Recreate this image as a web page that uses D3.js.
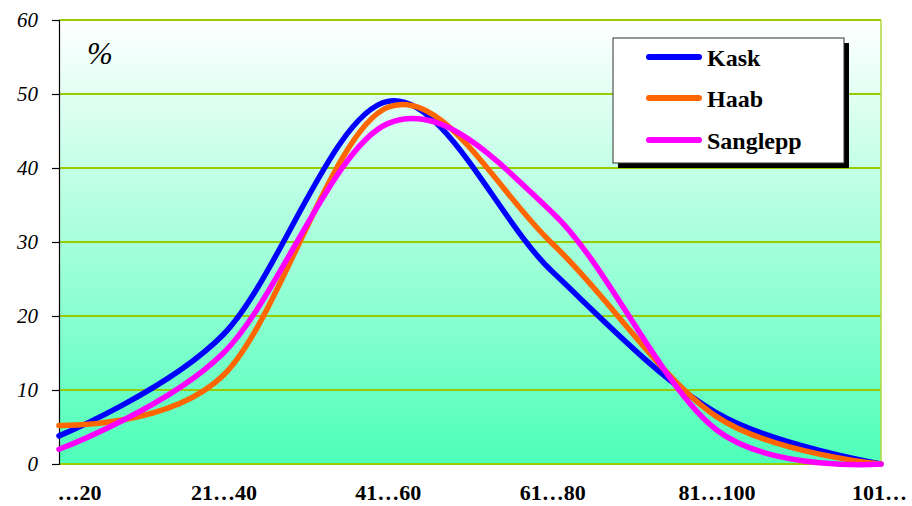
<!DOCTYPE html>
<html>
<head>
<meta charset="utf-8">
<script src="https://cdn.jsdelivr.net/npm/d3@7/dist/d3.min.js"></script>
<style>
html,body{margin:0;padding:0;background:#fff;}
svg{display:block;}
</style>
</head>
<body>
<svg id="chart" width="912" height="506"></svg>
<script>
const categories = ["…20", "21…40", "41…60", "61…80", "81…100", "101…"];
const kask = [3.8, 17.5, 49.0, 26.0, 6.9, 0];
const haab = [5.2, 12.0, 48.2, 29.8, 6.4, 0];
const sanglepp = [2.0, 15.0, 46.0, 34.0, 4.6, 0];
const seriesNames = ["Kask", "Haab", "Sanglepp"];
const seriesColors = ["#0000ff", "#ff6600", "#ff00ff"];
const yTicks = [0, 10, 20, 30, 40, 50, 60];

const series = [kask, haab, sanglepp];
const svg = d3.select("#chart");
const L = 59, R = 881, T = 20, B = 464;

const x = d3.scalePoint().domain(categories).range([L, R]);
const y = d3.scaleLinear().domain([0, 60]).range([B, T]);

const defs = svg.append("defs");
const grad = defs.append("linearGradient").attr("id", "bg").attr("x1", 0).attr("y1", 0).attr("x2", 0).attr("y2", 1);
grad.append("stop").attr("offset", "0%").attr("stop-color", "#ffffff");
grad.append("stop").attr("offset", "100%").attr("stop-color", "#4dffb8");

svg.append("rect").attr("x", L).attr("y", T).attr("width", R - L).attr("height", B - T).attr("fill", "url(#bg)");

// gridlines
svg.append("g").selectAll("line").data(yTicks).join("line")
  .attr("x1", L).attr("x2", R)
  .attr("y1", d => y(d)).attr("y2", d => y(d))
  .attr("stroke", "#99cc00").attr("stroke-width", 2);
// right border
svg.append("line").attr("x1", R).attr("x2", R).attr("y1", T).attr("y2", B)
  .attr("stroke", "#b5d93a").attr("stroke-width", 1.5);

// y axis
const yAxis = d3.axisLeft(y).tickValues(yTicks).tickSize(7).tickPadding(14).tickFormat(d3.format("d"));
const ga = svg.append("g").attr("transform", `translate(${L},0)`).call(yAxis);
ga.select(".domain").attr("stroke", "#000").attr("stroke-width", 1.2);
ga.selectAll(".tick line").attr("stroke", "#000").attr("stroke-width", 1.2);
ga.selectAll(".tick text")
  .attr("font-family", "'Liberation Serif', 'DejaVu Serif', serif")
  .attr("font-style", "italic").attr("font-size", "21px").attr("fill", "#000")
  .attr("dy", "0.3em");

// x labels
const xAxis = d3.axisBottom(x).tickSize(0).tickPadding(0);
const gx = svg.append("g").attr("transform", `translate(0,${B})`).call(xAxis);
gx.select(".domain").remove();
gx.selectAll(".tick text")
  .attr("font-family", "'Liberation Serif', 'DejaVu Serif', serif")
  .attr("font-weight", "bold").attr("font-size", "22px").attr("fill", "#000")
  .attr("y", 36).attr("dy", 0)
  .attr("text-anchor", (d, i) => i === 0 ? "start" : "middle")
  .attr("dx", (d, i) => i === 0 ? -2 : (i === categories.length - 1 ? -2 : 0));

// % label
svg.append("text").attr("x", 87).attr("y", 64).text("%")
  .attr("font-family", "'Liberation Serif', 'DejaVu Serif', serif")
  .attr("font-style", "italic").attr("font-size", "31px").attr("fill", "#000");

// lines
const line = d3.line().x((d, i) => x(categories[i])).y(d => y(d)).curve(d3.curveCardinal.tension(0));
svg.append("g").selectAll("path").data(series).join("path")
  .attr("d", d => line(d))
  .attr("fill", "none")
  .attr("stroke", (d, i) => seriesColors[i])
  .attr("stroke-width", 5.5)
  .attr("stroke-linejoin", "round").attr("stroke-linecap", "round");

// legend
const lg = svg.append("g");
lg.append("rect").attr("x", 618).attr("y", 43).attr("width", 231).attr("height", 125).attr("fill", "#000");
lg.append("rect").attr("x", 613).attr("y", 38).attr("width", 231).attr("height", 125)
  .attr("fill", "#fff").attr("stroke", "#333").attr("stroke-width", 1);
const ly = [57, 98, 140];
seriesNames.forEach((n, i) => {
  lg.append("line").attr("x1", 649).attr("x2", 699).attr("y1", ly[i]).attr("y2", ly[i])
    .attr("stroke", seriesColors[i]).attr("stroke-width", 6).attr("stroke-linecap", "round");
  lg.append("text").attr("x", 707).attr("y", ly[i] + 9).text(n)
    .attr("font-family", "'Liberation Serif', 'DejaVu Serif', serif")
    .attr("font-weight", "bold").attr("font-size", "24px").attr("fill", "#000");
});
</script>
</body>
</html>
